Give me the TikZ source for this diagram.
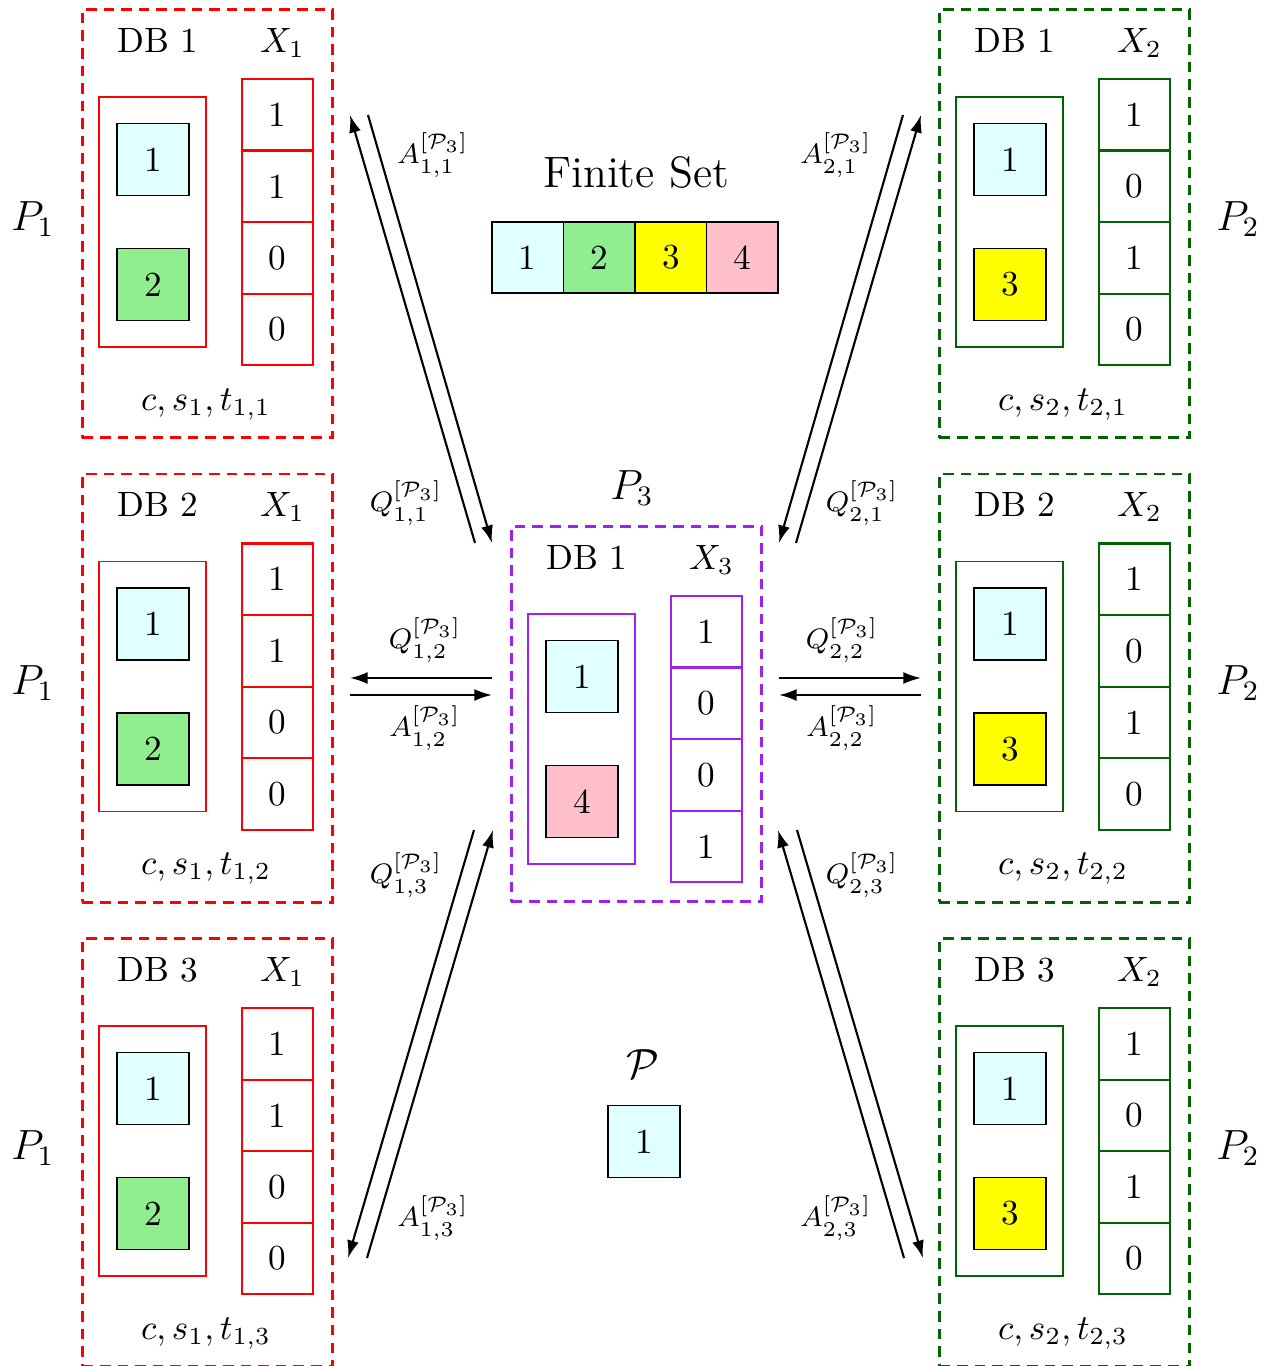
\documentclass[tikz,border=0pt]{standalone}
\usetikzlibrary{arrows.meta,positioning}
\definecolor{setcyan}{HTML}{E0FFFF}
\definecolor{setgreen}{HTML}{90EE90}
\definecolor{setyellow}{HTML}{FFFF00}
\definecolor{setpink}{HTML}{FFC0CB}
\definecolor{srvgreen}{HTML}{006400}
\definecolor{srvviolet}{HTML}{A020F0}

\begin{document}
\begin{tikzpicture}[
    x=0.01cm, y=-0.01cm,
    server/.style={rectangle, draw=#1, thick, dash pattern=on 3pt off 2pt, minimum width=2.5cm, inner sep=0, anchor=north west},
    dbbox/.style={rectangle, draw=#1, line width=0.5pt, minimum width=1.07cm, minimum height=2.5cm, inner sep=0},
    item/.style={rectangle, draw=black, line width=0.5pt, fill=#1, minimum size=0.72cm, inner sep=0, outer sep=0},
    bit/.style={rectangle, draw=#1, semithick, minimum width=0.71cm, minimum height=0.715cm, inner sep=0, outer sep=0},
    party/.style={font=\fontsize{12}{14}\selectfont},
    msg/.style={font=\fontsize{8.5}{10}\selectfont},
    arrow/.style={semithick,-{Latex[length=5pt,width=3.4pt]}}
]
\useasboundingbox (0,0) rectangle (1276,1366);

% Left column: P_1 and its three databases
\foreach \r in {1,2,3} {
\begin{scope}[shift={(81,{8+464.5*(\r-1)})}]
\node[server=red, minimum height=4.28cm] (l\r) at (0,0) {};
\node[anchor=base] (l\r_db) at (77,44) {DB \r};
\node[anchor=base] (l\r_x) at (201.5,44) {$X_1$};
\node[dbbox=red] (l\r_box) at (71.5,214) {};
\node[item=setcyan] (l\r_a) at (72,151.5) {1};
\node[item=setgreen] (l\r_b) at (72,276.5) {2};
\node[bit=red, anchor=north] (l\r_c1) at (196.5,71) {1};
\node[bit=red, below=0pt of l\r_c1] (l\r_c2) {1};
\node[bit=red, below=0pt of l\r_c2] (l\r_c3) {0};
\node[bit=red, below=0pt of l\r_c3] (l\r_c4) {0};
\node[anchor=base] (l\r_key) at (125,402) {$c, s_1, t_{1,\r}$};
\node[party, anchor=base] (l\r_p) at (-48,222) {$P_1$};
\end{scope}
}

% Right column: P_2 and its three databases
\foreach \r in {1,2,3} {
\begin{scope}[shift={(938,{8+464.5*(\r-1)})}]
\node[server=srvgreen, minimum height=4.28cm] (r\r) at (0,0) {};
\node[anchor=base] (r\r_db) at (77,44) {DB \r};
\node[anchor=base] (r\r_x) at (201.5,44) {$X_2$};
\node[dbbox=srvgreen] (r\r_box) at (71.5,214) {};
\node[item=setcyan] (r\r_a) at (72,151.5) {1};
\node[item=setyellow] (r\r_b) at (72,276.5) {3};
\node[bit=srvgreen, anchor=north] (r\r_c1) at (196.5,71) {1};
\node[bit=srvgreen, below=0pt of r\r_c1] (r\r_c2) {0};
\node[bit=srvgreen, below=0pt of r\r_c2] (r\r_c3) {1};
\node[bit=srvgreen, below=0pt of r\r_c3] (r\r_c4) {0};
\node[anchor=base] (r\r_key) at (125,402) {$c, s_2, t_{2,\r}$};
\node[party, anchor=base] (r\r_p) at (300,222) {$P_2$};
\end{scope}
}

% Centre: P_3
\begin{scope}[shift={(510,525)}]
\node[server=srvviolet, minimum height=3.75cm] (p3) at (0,0) {};
\node[anchor=base] (p3_db) at (77,44) {DB 1};
\node[anchor=base] (p3_x) at (201.5,44) {$X_3$};
\node[dbbox=srvviolet] (p3_box) at (71.5,214) {};
\node[item=setcyan] (p3_a) at (72,151.5) {1};
\node[item=setpink] (p3_b) at (72,276.5) {4};
\node[bit=srvviolet, anchor=north] (p3_c1) at (196.5,71) {1};
\node[bit=srvviolet, below=0pt of p3_c1] (p3_c2) {0};
\node[bit=srvviolet, below=0pt of p3_c2] (p3_c3) {0};
\node[bit=srvviolet, below=0pt of p3_c3] (p3_c4) {1};
\end{scope}
\node[party, anchor=base] (p3_p) at (632,499) {$P_3$};

% Finite set
\node[anchor=base, font=\fontsize{12.5}{15}\selectfont] (fs_title) at (636,187) {Finite Set};
\node[item=setcyan, minimum size=0.715cm] (fs1) at (527.75,257.5) {1};
\node[item=setgreen, minimum size=0.715cm, right=0pt of fs1] (fs2) {2};
\node[item=setyellow, minimum size=0.715cm, right=0pt of fs2] (fs3) {3};
\node[item=setpink, minimum size=0.715cm, right=0pt of fs3] (fs4) {4};

% Intersection
\node[party] (ps_title) at (643,1064) {$\mathcal{P}$};
\node[item=setcyan] (ps1) at (644,1141.5) {1};

% Arrow ends
\coordinate (q11_s) at (368,115);  \coordinate (q11_e) at (492,543);
\coordinate (a11_s) at (475,543);  \coordinate (a11_e) at (350,115);
\coordinate (q12_s) at (492,678);  \coordinate (q12_e) at (350,678);
\coordinate (a12_s) at (350,695);  \coordinate (a12_e) at (492,695);
\coordinate (q13_s) at (367,1258); \coordinate (q13_e) at (493,830);
\coordinate (a13_s) at (474,830);  \coordinate (a13_e) at (348,1258);
\coordinate (q21_s) at (903,115);  \coordinate (q21_e) at (779,543);
\coordinate (a21_s) at (796,543);  \coordinate (a21_e) at (921,115);
\coordinate (q22_s) at (779,678);  \coordinate (q22_e) at (921,678);
\coordinate (a22_s) at (921,695);  \coordinate (a22_e) at (779,695);
\coordinate (q23_s) at (904,1258); \coordinate (q23_e) at (778,830);
\coordinate (a23_s) at (797,830);  \coordinate (a23_e) at (923,1258);

% Queries and answers
\draw[arrow] (q11_s) -- (q11_e);
\draw[arrow] (a11_s) -- (a11_e);
\draw[arrow] (q12_s) -- (q12_e);
\draw[arrow] (a12_s) -- (a12_e);
\draw[arrow] (q13_s) -- (q13_e);
\draw[arrow] (a13_s) -- (a13_e);
\draw[arrow] (q21_s) -- (q21_e);
\draw[arrow] (a21_s) -- (a21_e);
\draw[arrow] (q22_s) -- (q22_e);
\draw[arrow] (a22_s) -- (a22_e);
\draw[arrow] (q23_s) -- (q23_e);
\draw[arrow] (a23_s) -- (a23_e);

\node[msg] (a11_l) at (433,155) {$A_{1,1}^{[\mathcal{P}_3]}$};
\node[msg] (q11_l) at (406,503) {$Q_{1,1}^{[\mathcal{P}_3]}$};
\node[msg] (q12_l) at (425,640) {$Q_{1,2}^{[\mathcal{P}_3]}$};
\node[msg] (a12_l) at (425,728) {$A_{1,2}^{[\mathcal{P}_3]}$};
\node[msg] (q13_l) at (406,875) {$Q_{1,3}^{[\mathcal{P}_3]}$};
\node[msg] (a13_l) at (433,1218) {$A_{1,3}^{[\mathcal{P}_3]}$};
\node[msg] (a21_l) at (836,155) {$A_{2,1}^{[\mathcal{P}_3]}$};
\node[msg] (q21_l) at (862,503) {$Q_{2,1}^{[\mathcal{P}_3]}$};
\node[msg] (q22_l) at (842,640) {$Q_{2,2}^{[\mathcal{P}_3]}$};
\node[msg] (a22_l) at (842,728) {$A_{2,2}^{[\mathcal{P}_3]}$};
\node[msg] (q23_l) at (862,875) {$Q_{2,3}^{[\mathcal{P}_3]}$};
\node[msg] (a23_l) at (836,1218) {$A_{2,3}^{[\mathcal{P}_3]}$};

\end{tikzpicture}
\end{document}
